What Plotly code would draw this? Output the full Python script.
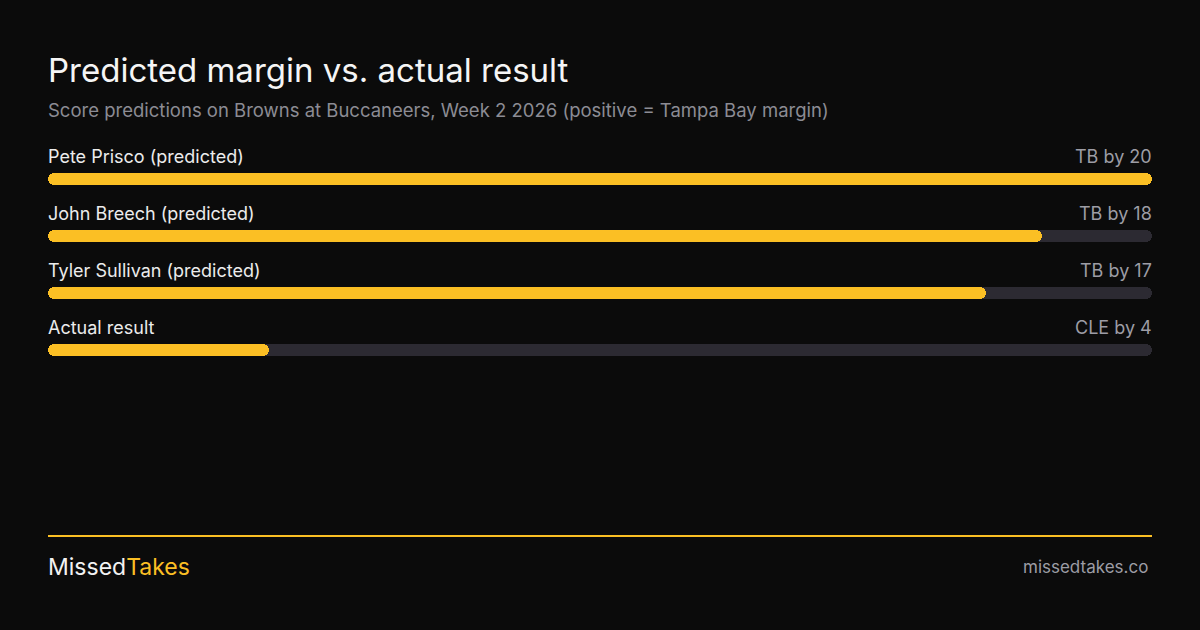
import plotly.graph_objects as go

# data
names = ["Pete Prisco (predicted)", "John Breech (predicted)",
         "Tyler Sullivan (predicted)", "Actual result"]
margins = [20, 18, 17, -4]          # positive = Tampa Bay margin
value_labels = ["TB by 20", "TB by 18", "TB by 17", "CLE by 4"]
scale_max = 20

BG = "#0b0b0b"
YELLOW = "#fbbf24"
TRACK = "#2c2a32"
FONT = "Inter, Noto Sans, sans-serif"

W, H = 1200, 630
L, R, T, B = 48, 48, 140, 250
ROW = 57          # px per row
FIRST = 179       # px centre of first bar
BAR_W = 12 / ROW


def px_x(p):
    return (p - L) / (W - L - R)


def px_y(p):
    return (H - B - p) / (H - T - B)


rows = list(range(len(names)))
plot_h = H - T - B
top_off = (FIRST - T) / ROW
yrange = [plot_h / ROW - top_off, -top_off]


def pill(fig, lengths, color, hover):
    # explicit base so plotly rounds both ends of the bar
    fig.add_trace(go.Bar(
        x=lengths, base=[0] * len(lengths), y=rows, orientation="h",
        width=BAR_W, marker=dict(color=color, cornerradius=6, line_width=0),
        hovertext=hover, hoverinfo="text" if hover else "skip",
        showlegend=False))


fig = go.Figure()
pill(fig, [scale_max] * len(rows), TRACK, None)
pill(fig, [abs(m) for m in margins], YELLOW, value_labels)

for i, (n, v) in enumerate(zip(names, value_labels)):
    fig.add_annotation(x=0, y=i, xref="x", yref="y", text=n, showarrow=False,
                       xanchor="left", yanchor="middle", yshift=23, xshift=-2,
                       font=dict(family=FONT, size=18, color="#ececec"))
    fig.add_annotation(x=scale_max, y=i, xref="x", yref="y", text=v, showarrow=False,
                       xanchor="right", yanchor="middle", yshift=23, xshift=2,
                       font=dict(family=FONT, size=18, color="#9d9da5"))

fig.add_annotation(x=px_x(48), y=px_y(110), xref="paper", yref="paper", xshift=-2,
                   text="Score predictions on Browns at Buccaneers, Week 2 2026 (positive = Tampa Bay margin)",
                   showarrow=False, xanchor="left", yanchor="middle",
                   font=dict(family=FONT, size=18.5, color="#8c8c94"))

# footer
fig.add_shape(type="line", xref="paper", yref="paper",
              x0=px_x(48), x1=px_x(1152), y0=px_y(536), y1=px_y(536),
              line=dict(color=YELLOW, width=2))
fig.add_annotation(x=px_x(48), y=px_y(567), xref="paper", yref="paper", xshift=-2,
                   text="Missed<span style='color:%s'>Takes</span>" % YELLOW,
                   showarrow=False, xanchor="left", yanchor="middle",
                   font=dict(family=FONT, size=23, color="#f2f2f2"))
fig.add_annotation(x=px_x(1148), y=px_y(567), xref="paper", yref="paper", xshift=2,
                   text="missedtakes.co", showarrow=False,
                   xanchor="right", yanchor="middle",
                   font=dict(family=FONT, size=17, color="#9d9da5"))

fig.update_layout(
    width=W, height=H,
    margin=dict(l=L, r=R, t=T, b=B),
    paper_bgcolor=BG, plot_bgcolor=BG,
    barmode="overlay", bargap=0,
    title=dict(text="Predicted margin vs. actual result", x=L / W, xanchor="left",
               y=1 - 70 / H, yanchor="middle", yref="container",
               font=dict(family=FONT, size=33, color="#f5f5f5")),
    xaxis=dict(range=[0, scale_max], visible=False, fixedrange=True),
    yaxis=dict(range=yrange, visible=False, fixedrange=True),
)

fig.write_html("out.html", config={"displayModeBar": False},
               post_script="document.body.style.margin='0';"
                           "document.body.style.background='%s';" % BG)
